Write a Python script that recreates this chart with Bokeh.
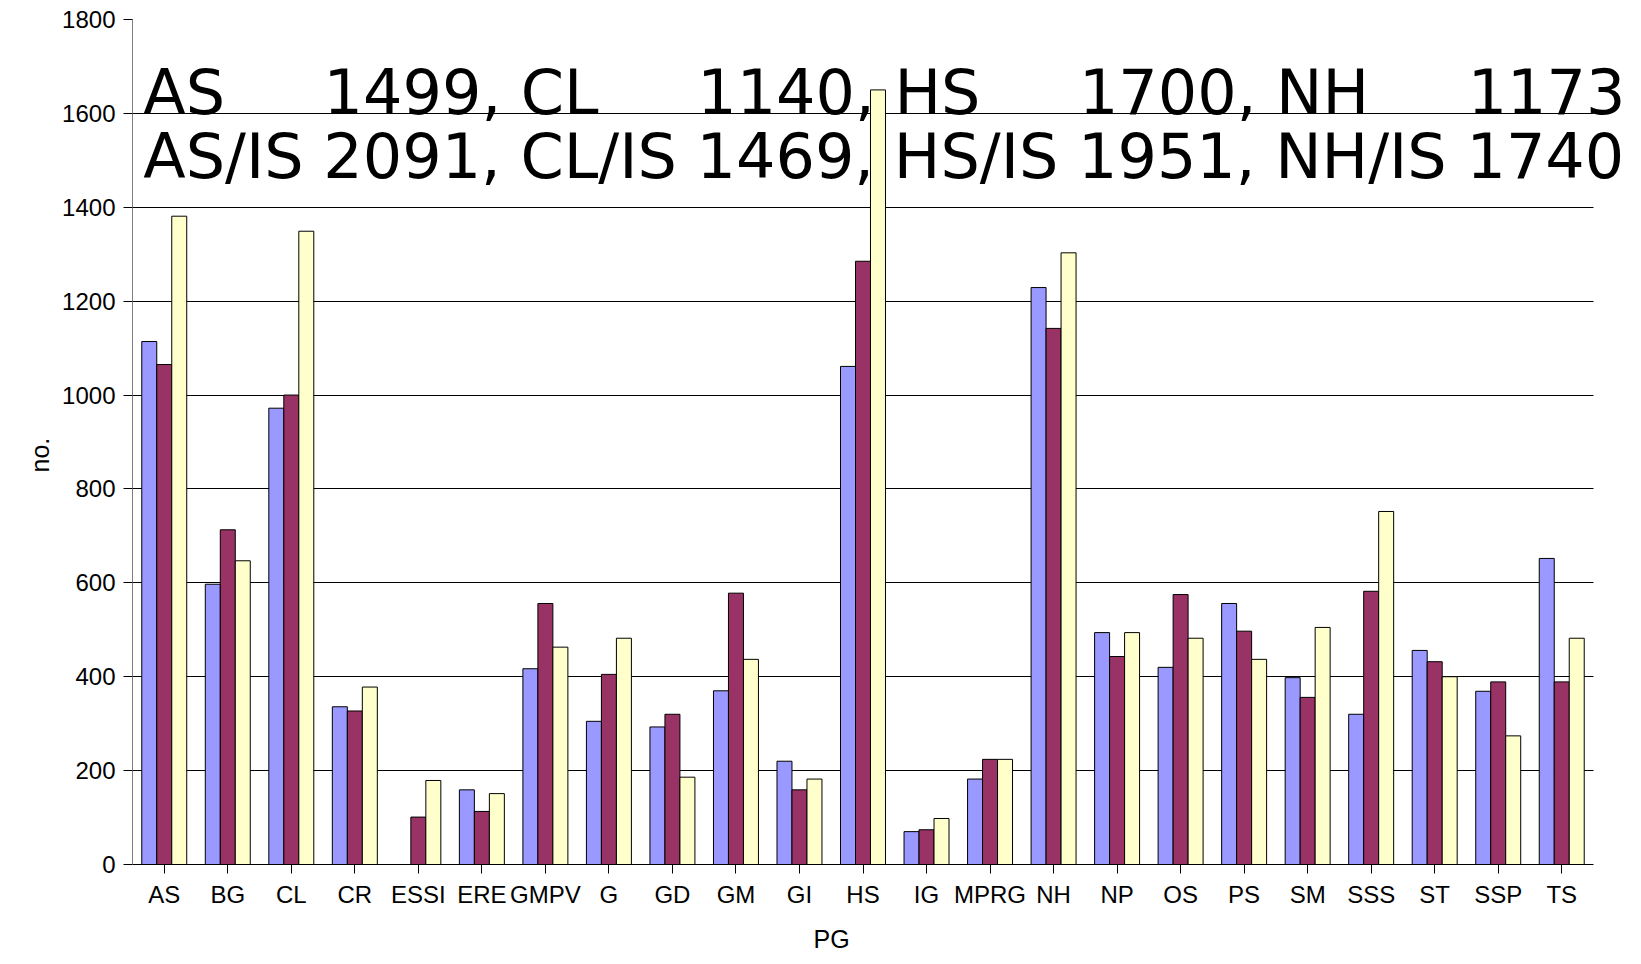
from bokeh.plotting import figure
from bokeh.models import ColumnDataSource, Label, FixedTicker, Range1d, Title
from bokeh.embed import file_html
from bokeh.resources import INLINE

categories = ["AS", "BG", "CL", "CR", "ESSI", "ERE", "GMPV", "G", "GD", "GM", "GI", "HS",
              "IG", "MPRG", "NH", "NP", "OS", "PS", "SM", "SSS", "ST", "SSP", "TS"]
series_blue = [1114, 597, 972, 336, 0, 159, 417, 305, 293, 370, 220, 1061,
               70, 182, 1229, 494, 420, 556, 398, 320, 456, 369, 652]
series_red = [1065, 713, 1000, 327, 101, 113, 556, 405, 320, 578, 159, 1285,
              74, 224, 1142, 443, 575, 497, 356, 582, 432, 389, 389]
series_yellow = [1381, 647, 1349, 378, 179, 151, 463, 482, 186, 437, 182, 1650,
                 98, 224, 1303, 494, 482, 437, 505, 752, 400, 274, 482]
y_ticks = [0, 200, 400, 600, 800, 1000, 1200, 1400, 1600, 1800]
note_line1 = "AS     1499, CL     1140, HS     1700, NH     1173"
note_line2 = "AS/IS 2091, CL/IS 1469, HS/IS 1951, NH/IS 1740"
x_title = "PG"
y_title = "no."

FONT = "Liberation Sans"
NOTE_FONT = "DejaVu Sans"

W, H = 1641, 964
LEFT, TOP, BOTTOM = 132, 19, 98
CAT_RIGHT = 1593  # right end of the category area (axis + grid)

n = len(categories)
centers = [i + 0.5 for i in range(n)]
bw = 0.236

source = ColumnDataSource(dict(
    cat=categories, xc=centers,
    xb=[c - bw for c in centers], xr=centers, xy=[c + bw for c in centers],
    blue=series_blue, red=series_red, yellow=series_yellow))

x_end = n * (W - LEFT) / (CAT_RIGHT - LEFT)
p = figure(x_range=Range1d(0, x_end), y_range=Range1d(0, 1800), width=W, height=H,
           output_backend="svg", toolbar_location=None,
           min_border_left=LEFT, min_border_right=0, min_border_top=TOP, min_border_bottom=BOTTOM)
p.outline_line_color = None
p.background_fill_color = "white"
p.border_fill_color = "white"

for xcol, col, color in (("xb", "blue", "#9999FF"), ("xr", "red", "#993366"), ("xy", "yellow", "#FFFFCC")):
    p.vbar(x=xcol, top=col, width=bw, bottom=0, source=source,
           fill_color=color, line_color="#000000", line_width=1)

p.xgrid.grid_line_color = None
p.ygrid.ticker = FixedTicker(ticks=y_ticks)
if "cross_bounds" in p.ygrid.properties():
    p.ygrid.grid_line_color = "#000000"
    p.ygrid.grid_line_width = 1
    p.ygrid.cross_bounds = (0, n)
else:
    p.ygrid.grid_line_color = None
    p.segment(x0=[0] * len(y_ticks), x1=[n] * len(y_ticks), y0=y_ticks, y1=y_ticks,
              line_color="#000000", line_width=1, level="underlay")

p.yaxis.ticker = FixedTicker(ticks=y_ticks)
p.yaxis.minor_tick_line_color = None
p.yaxis.major_tick_in = 0
p.yaxis.major_tick_out = 9
p.yaxis.axis_line_color = "#808080"
p.yaxis.major_tick_line_color = "#000000"
p.yaxis.major_label_standoff = 8

p.xaxis.ticker = FixedTicker(ticks=centers)
p.xaxis.major_label_overrides = {c: cat for c, cat in zip(centers, categories)}
p.xaxis.bounds = (0, n)
p.xaxis.minor_tick_line_color = None
p.xaxis.major_tick_in = 0
p.xaxis.major_tick_out = 9
p.xaxis.axis_line_color = "#000000"
p.xaxis.major_tick_line_color = "#000000"
p.xaxis.major_label_standoff = 7

for ax in (p.xaxis, p.yaxis):
    ax.major_label_text_font = FONT
    ax.major_label_text_font_size = "24px"
    ax.major_label_text_color = "#000000"

# axis titles as Title annotations so they can be shifted like in the reference
p.add_layout(Title(text=x_title, align="left", offset=681, standoff=24,
                   text_font=FONT, text_font_size="25px", text_font_style="normal",
                   text_color="#000000"), "below")
p.add_layout(Title(text=y_title, align="left", offset=392, standoff=11,
                   text_font=FONT, text_font_size="25px", text_font_style="normal",
                   text_color="#000000"), "left")

nb = "\u00a0"
for txt, yv in ((note_line1, 1645), (note_line2, 1509)):
    p.add_layout(Label(x=0.17, y=yv, text=txt.replace(" ", nb), text_font=NOTE_FONT,
                       text_font_size="62px", text_color="#000000", text_baseline="alphabetic",
                       level="overlay"))

open("out.html", "w").write(file_html(p, INLINE))
